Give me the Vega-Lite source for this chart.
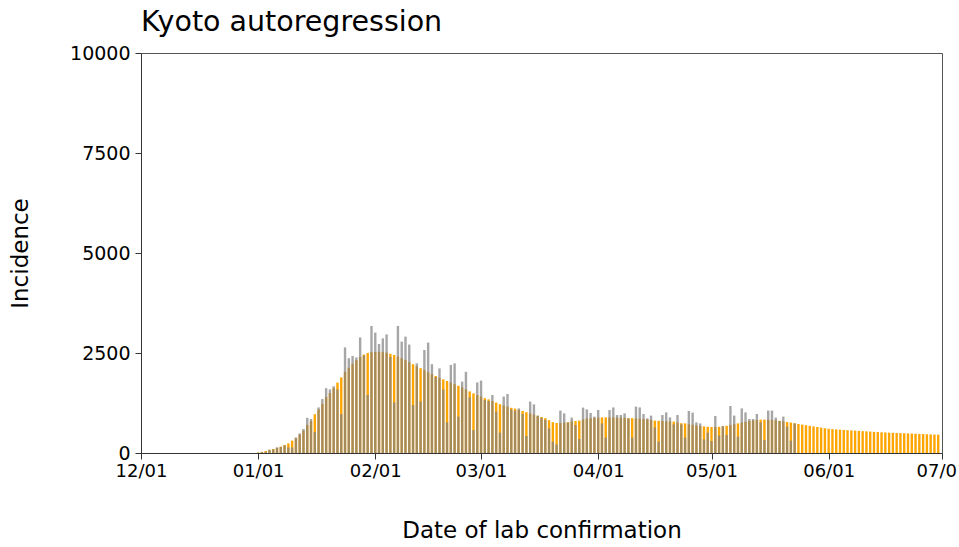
{
  "$schema": "https://vega.github.io/schema/vega-lite/v6.json",
  "width": 801,
  "height": 400,
  "autosize": {"type": "none"},
  "padding": {"left": 141, "top": 53, "right": 17, "bottom": 94},
  "background": "white",
  "title": {"text": "Kyoto autoregression", "anchor": "start", "frame": "group", "fontSize": 28.5, "fontWeight": "normal", "font": "DejaVu Sans", "color": "black", "offset": 8},
  "data": {
    "format": {"parse": {"date": "date:'%Y-%m-%d'"}},
    "values": [
      {"date": "2022-01-01", "fitted": 10, "observed": 10},
      {"date": "2022-01-02", "fitted": 30, "observed": 20},
      {"date": "2022-01-03", "fitted": 50, "observed": 30},
      {"date": "2022-01-04", "fitted": 80, "observed": 80},
      {"date": "2022-01-05", "fitted": 100, "observed": 90},
      {"date": "2022-01-06", "fitted": 130, "observed": 140},
      {"date": "2022-01-07", "fitted": 160, "observed": 150},
      {"date": "2022-01-08", "fitted": 200, "observed": 190},
      {"date": "2022-01-09", "fitted": 240, "observed": 140},
      {"date": "2022-01-10", "fitted": 310, "observed": 140},
      {"date": "2022-01-11", "fitted": 370, "observed": 390},
      {"date": "2022-01-12", "fitted": 460, "observed": 490},
      {"date": "2022-01-13", "fitted": 560, "observed": 600},
      {"date": "2022-01-14", "fitted": 700, "observed": 880},
      {"date": "2022-01-15", "fitted": 800, "observed": 850},
      {"date": "2022-01-16", "fitted": 970, "observed": 525},
      {"date": "2022-01-17", "fitted": 1090, "observed": 1140},
      {"date": "2022-01-18", "fitted": 1230, "observed": 1350},
      {"date": "2022-01-19", "fitted": 1400, "observed": 1620},
      {"date": "2022-01-20", "fitted": 1500, "observed": 1590},
      {"date": "2022-01-21", "fitted": 1620, "observed": 1670},
      {"date": "2022-01-22", "fitted": 1760, "observed": 1590},
      {"date": "2022-01-23", "fitted": 1890, "observed": 975},
      {"date": "2022-01-24", "fitted": 2030, "observed": 2640},
      {"date": "2022-01-25", "fitted": 2130, "observed": 2370},
      {"date": "2022-01-26", "fitted": 2230, "observed": 2425},
      {"date": "2022-01-27", "fitted": 2320, "observed": 2390},
      {"date": "2022-01-28", "fitted": 2400, "observed": 2890},
      {"date": "2022-01-29", "fitted": 2460, "observed": 2440},
      {"date": "2022-01-30", "fitted": 2500, "observed": 1450},
      {"date": "2022-01-31", "fitted": 2520, "observed": 3175},
      {"date": "2022-02-01", "fitted": 2530, "observed": 3010},
      {"date": "2022-02-02", "fitted": 2530, "observed": 2725},
      {"date": "2022-02-03", "fitted": 2520, "observed": 2865},
      {"date": "2022-02-04", "fitted": 2510, "observed": 2965},
      {"date": "2022-02-05", "fitted": 2480, "observed": 2400},
      {"date": "2022-02-06", "fitted": 2450, "observed": 1265},
      {"date": "2022-02-07", "fitted": 2410, "observed": 3175},
      {"date": "2022-02-08", "fitted": 2370, "observed": 2785},
      {"date": "2022-02-09", "fitted": 2320, "observed": 2910},
      {"date": "2022-02-10", "fitted": 2270, "observed": 2710},
      {"date": "2022-02-11", "fitted": 2220, "observed": 1200},
      {"date": "2022-02-12", "fitted": 2170, "observed": 2240},
      {"date": "2022-02-13", "fitted": 2120, "observed": 1285},
      {"date": "2022-02-14", "fitted": 2070, "observed": 2575},
      {"date": "2022-02-15", "fitted": 2020, "observed": 2760},
      {"date": "2022-02-16", "fitted": 1970, "observed": 2220},
      {"date": "2022-02-17", "fitted": 1925, "observed": 1900},
      {"date": "2022-02-18", "fitted": 1880, "observed": 2115},
      {"date": "2022-02-19", "fitted": 1840, "observed": 1590},
      {"date": "2022-02-20", "fitted": 1800, "observed": 767},
      {"date": "2022-02-21", "fitted": 1760, "observed": 2200},
      {"date": "2022-02-22", "fitted": 1720, "observed": 2240},
      {"date": "2022-02-23", "fitted": 1680, "observed": 910},
      {"date": "2022-02-24", "fitted": 1640, "observed": 1785},
      {"date": "2022-02-25", "fitted": 1590, "observed": 2030},
      {"date": "2022-02-26", "fitted": 1540, "observed": 1390},
      {"date": "2022-02-27", "fitted": 1490, "observed": 575},
      {"date": "2022-02-28", "fitted": 1450, "observed": 1765},
      {"date": "2022-03-01", "fitted": 1410, "observed": 1810},
      {"date": "2022-03-02", "fitted": 1370, "observed": 1325},
      {"date": "2022-03-03", "fitted": 1340, "observed": 1300},
      {"date": "2022-03-04", "fitted": 1300, "observed": 1450},
      {"date": "2022-03-05", "fitted": 1260, "observed": 1035},
      {"date": "2022-03-06", "fitted": 1220, "observed": 510},
      {"date": "2022-03-07", "fitted": 1190, "observed": 1410},
      {"date": "2022-03-08", "fitted": 1160, "observed": 1475},
      {"date": "2022-03-09", "fitted": 1130, "observed": 1090},
      {"date": "2022-03-10", "fitted": 1110, "observed": 1060},
      {"date": "2022-03-11", "fitted": 1080, "observed": 1115},
      {"date": "2022-03-12", "fitted": 1050, "observed": 975},
      {"date": "2022-03-13", "fitted": 1020, "observed": 425},
      {"date": "2022-03-14", "fitted": 990, "observed": 1285},
      {"date": "2022-03-15", "fitted": 960, "observed": 1215},
      {"date": "2022-03-16", "fitted": 930, "observed": 935},
      {"date": "2022-03-17", "fitted": 900, "observed": 880},
      {"date": "2022-03-18", "fitted": 870, "observed": 830},
      {"date": "2022-03-19", "fitted": 820, "observed": 615},
      {"date": "2022-03-20", "fitted": 770, "observed": 285},
      {"date": "2022-03-21", "fitted": 750, "observed": 215},
      {"date": "2022-03-22", "fitted": 750, "observed": 1060},
      {"date": "2022-03-23", "fitted": 760, "observed": 990},
      {"date": "2022-03-24", "fitted": 770, "observed": 760},
      {"date": "2022-03-25", "fitted": 790, "observed": 885},
      {"date": "2022-03-26", "fitted": 800, "observed": 700},
      {"date": "2022-03-27", "fitted": 810, "observed": 350},
      {"date": "2022-03-28", "fitted": 840, "observed": 1135},
      {"date": "2022-03-29", "fitted": 860, "observed": 1090},
      {"date": "2022-03-30", "fitted": 870, "observed": 1000},
      {"date": "2022-03-31", "fitted": 880, "observed": 910},
      {"date": "2022-04-01", "fitted": 885, "observed": 1075},
      {"date": "2022-04-02", "fitted": 890, "observed": 740},
      {"date": "2022-04-03", "fitted": 890, "observed": 385},
      {"date": "2022-04-04", "fitted": 890, "observed": 1075},
      {"date": "2022-04-05", "fitted": 890, "observed": 1140},
      {"date": "2022-04-06", "fitted": 885, "observed": 950},
      {"date": "2022-04-07", "fitted": 880, "observed": 950},
      {"date": "2022-04-08", "fitted": 875, "observed": 990},
      {"date": "2022-04-09", "fitted": 870, "observed": 865},
      {"date": "2022-04-10", "fitted": 870, "observed": 385},
      {"date": "2022-04-11", "fitted": 865, "observed": 1160},
      {"date": "2022-04-12", "fitted": 860, "observed": 1140},
      {"date": "2022-04-13", "fitted": 850, "observed": 975},
      {"date": "2022-04-14", "fitted": 840, "observed": 865},
      {"date": "2022-04-15", "fitted": 825, "observed": 935},
      {"date": "2022-04-16", "fitted": 810, "observed": 640},
      {"date": "2022-04-17", "fitted": 805, "observed": 285},
      {"date": "2022-04-18", "fitted": 800, "observed": 950},
      {"date": "2022-04-19", "fitted": 795, "observed": 1015},
      {"date": "2022-04-20", "fitted": 790, "observed": 890},
      {"date": "2022-04-21", "fitted": 785, "observed": 715},
      {"date": "2022-04-22", "fitted": 765, "observed": 950},
      {"date": "2022-04-23", "fitted": 745, "observed": 715},
      {"date": "2022-04-24", "fitted": 740, "observed": 385},
      {"date": "2022-04-25", "fitted": 720, "observed": 1050},
      {"date": "2022-04-26", "fitted": 705, "observed": 1010},
      {"date": "2022-04-27", "fitted": 690, "observed": 765},
      {"date": "2022-04-28", "fitted": 675, "observed": 740},
      {"date": "2022-04-29", "fitted": 665, "observed": 340},
      {"date": "2022-04-30", "fitted": 655, "observed": 510},
      {"date": "2022-05-01", "fitted": 650, "observed": 300},
      {"date": "2022-05-02", "fitted": 650, "observed": 925},
      {"date": "2022-05-03", "fitted": 655, "observed": 435},
      {"date": "2022-05-04", "fitted": 665, "observed": 675},
      {"date": "2022-05-05", "fitted": 680, "observed": 450},
      {"date": "2022-05-06", "fitted": 700, "observed": 1175},
      {"date": "2022-05-07", "fitted": 720, "observed": 935},
      {"date": "2022-05-08", "fitted": 740, "observed": 410},
      {"date": "2022-05-09", "fitted": 760, "observed": 1115},
      {"date": "2022-05-10", "fitted": 780, "observed": 1015},
      {"date": "2022-05-11", "fitted": 800, "observed": 850},
      {"date": "2022-05-12", "fitted": 815, "observed": 850},
      {"date": "2022-05-13", "fitted": 825, "observed": 975},
      {"date": "2022-05-14", "fitted": 835, "observed": 765},
      {"date": "2022-05-15", "fitted": 835, "observed": 325},
      {"date": "2022-05-16", "fitted": 830, "observed": 1060},
      {"date": "2022-05-17", "fitted": 825, "observed": 1060},
      {"date": "2022-05-18", "fitted": 815, "observed": 885},
      {"date": "2022-05-19", "fitted": 805, "observed": 800},
      {"date": "2022-05-20", "fitted": 790, "observed": 910},
      {"date": "2022-05-21", "fitted": 775, "observed": 660},
      {"date": "2022-05-22", "fitted": 760, "observed": 310},
      {"date": "2022-05-23", "fitted": 745, "observed": 740},
      {"date": "2022-05-24", "fitted": 725},
      {"date": "2022-05-25", "fitted": 710},
      {"date": "2022-05-26", "fitted": 695},
      {"date": "2022-05-27", "fitted": 680},
      {"date": "2022-05-28", "fitted": 665},
      {"date": "2022-05-29", "fitted": 650},
      {"date": "2022-05-30", "fitted": 635},
      {"date": "2022-05-31", "fitted": 620},
      {"date": "2022-06-01", "fitted": 605},
      {"date": "2022-06-02", "fitted": 598},
      {"date": "2022-06-03", "fitted": 591},
      {"date": "2022-06-04", "fitted": 584},
      {"date": "2022-06-05", "fitted": 577},
      {"date": "2022-06-06", "fitted": 571},
      {"date": "2022-06-07", "fitted": 565},
      {"date": "2022-06-08", "fitted": 559},
      {"date": "2022-06-09", "fitted": 553},
      {"date": "2022-06-10", "fitted": 547},
      {"date": "2022-06-11", "fitted": 541},
      {"date": "2022-06-12", "fitted": 535},
      {"date": "2022-06-13", "fitted": 529},
      {"date": "2022-06-14", "fitted": 523},
      {"date": "2022-06-15", "fitted": 517},
      {"date": "2022-06-16", "fitted": 513},
      {"date": "2022-06-17", "fitted": 509},
      {"date": "2022-06-18", "fitted": 505},
      {"date": "2022-06-19", "fitted": 501},
      {"date": "2022-06-20", "fitted": 497},
      {"date": "2022-06-21", "fitted": 493},
      {"date": "2022-06-22", "fitted": 489},
      {"date": "2022-06-23", "fitted": 485},
      {"date": "2022-06-24", "fitted": 481},
      {"date": "2022-06-25", "fitted": 477},
      {"date": "2022-06-26", "fitted": 473},
      {"date": "2022-06-27", "fitted": 469},
      {"date": "2022-06-28", "fitted": 465},
      {"date": "2022-06-29", "fitted": 461},
      {"date": "2022-06-30", "fitted": 458}
    ]
  },
  "encoding": {
    "x": {
      "field": "date",
      "type": "temporal",
      "scale": {"domain": [{"year": 2021, "month": 12, "date": 1}, {"year": 2022, "month": 7, "date": 1}], "nice": false, "padding": 0},
      "axis": {
        "title": "Date of lab confirmation",
        "format": "%m/%d",
        "tickCount": {"interval": "month", "step": 1},
        "labelBound": false,
        "labelFlush": false,
        "labelOverlap": false,
        "labelPadding": 3,
        "titlePadding": 39
      }
    }
  },
  "layer": [
    {
      "mark": {"type": "bar", "color": "#FFA500", "width": 2.4, "clip": true},
      "encoding": {
        "y": {
          "field": "fitted",
          "type": "quantitative",
          "scale": {"domain": [0, 10000], "nice": false, "padding": 0},
          "axis": {"title": "Incidence", "values": [0, 2500, 5000, 7500, 10000], "format": "d", "titlePadding": 37, "labelPadding": 5, "labelFontSize": 19}
        }
      }
    },
    {
      "mark": {"type": "bar", "color": "#808080", "opacity": 0.7, "width": 2.4, "clip": true},
      "encoding": {
        "y": {"field": "observed", "type": "quantitative"}
      }
    }
  ],
  "config": {
    "font": "DejaVu Sans",
    "view": {"stroke": "#555555", "strokeWidth": 1},
    "axis": {
      "grid": false,
      "domainColor": "#333333",
      "tickColor": "#333333",
      "tickSize": 6,
      "labelColor": "black",
      "titleColor": "black",
      "labelFontSize": 18,
      "titleFontSize": 23,
      "titleFontWeight": "normal",
      "labelFont": "DejaVu Sans",
      "titleFont": "DejaVu Sans"
    }
  }
}
